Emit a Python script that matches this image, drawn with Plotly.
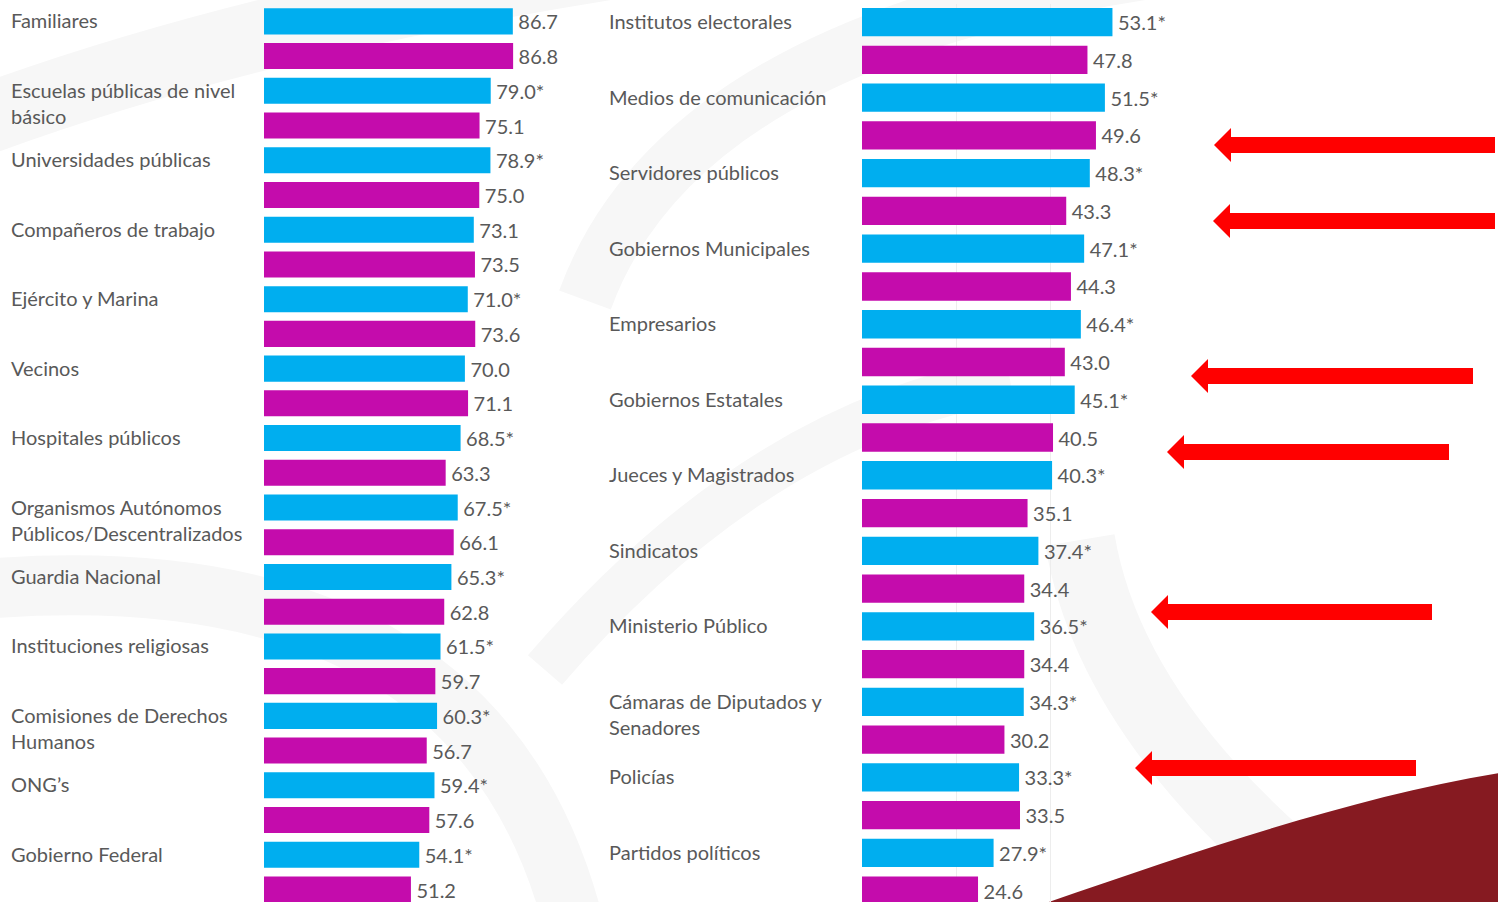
import plotly.graph_objects as go

W, H = 1498, 902
MT = 4

# ---------------- data ----------------
left_categories = [
    "Familiares", "Escuelas públicas de nivel<br>básico", "Universidades públicas",
    "Compañeros de trabajo", "Ejército y Marina", "Vecinos", "Hospitales públicos",
    "Organismos Autónomos<br>Públicos/Descentralizados", "Guardia Nacional",
    "Instituciones religiosas", "Comisiones de Derechos<br>Humanos", "ONG’s",
    "Gobierno Federal",
]
left_cyan = [86.7, 79.0, 78.9, 73.1, 71.0, 70.0, 68.5, 67.5, 65.3, 61.5, 60.3, 59.4, 54.1]
left_cyan_sig = [False, True, True, False, True, False, True, True, True, True, True, True, True]
left_magenta = [86.8, 75.1, 75.0, 73.5, 73.6, 71.1, 63.3, 66.1, 62.8, 59.7, 56.7, 57.6, 51.2]

right_categories = [
    "Institutos electorales", "Medios de comunicación", "Servidores públicos",
    "Gobiernos Municipales", "Empresarios", "Gobiernos Estatales", "Jueces y Magistrados",
    "Sindicatos", "Ministerio Público", "Cámaras de Diputados y<br>Senadores", "Policías",
    "Partidos políticos",
]
right_cyan = [53.1, 51.5, 48.3, 47.1, 46.4, 45.1, 40.3, 37.4, 36.5, 34.3, 33.3, 27.9]
right_cyan_sig = [True] * 12
right_magenta = [47.8, 49.6, 43.3, 44.3, 43.0, 40.5, 35.1, 34.4, 34.4, 30.2, 33.5, 24.6]

# ---------------- style ----------------
CYAN = "#00AEEF"
MAGENTA = "#C40CAC"
TXT = "#595959"
FONT = "Lato"
FS = 20


def px(x):
    return x / W


def py(y):
    return 1 - (y - MT) / (H - MT)


def fmt(v, sig=False):
    return "\u2009" + f"{v:.1f}" + ("*" if sig else "")


fig = go.Figure()

panels = [
    (left_categories, left_cyan, left_cyan_sig, left_magenta, "x", "y"),
    (right_categories, right_cyan, right_cyan_sig, right_magenta, "x2", "y2"),
]
for cats, cy, sig, mg, xa, ya in panels:
    fig.add_trace(go.Bar(
        y=cats, x=cy, orientation="h", marker=dict(color=CYAN, line=dict(width=0)),
        text=[fmt(v, s) for v, s in zip(cy, sig)], textposition="outside",
        textfont=dict(family=FONT, size=FS, color=TXT), cliponaxis=False,
        constraintext="none",
        xaxis=xa, yaxis=ya, showlegend=False, hoverinfo="skip",
    ))
    fig.add_trace(go.Bar(
        y=cats, x=mg, orientation="h", marker=dict(color=MAGENTA, line=dict(width=0)),
        text=[fmt(v) for v in mg], textposition="outside",
        textfont=dict(family=FONT, size=FS, color=TXT), cliponaxis=False,
        constraintext="none",
        xaxis=xa, yaxis=ya, showlegend=False, hoverinfo="skip",
    ))

# category labels (first line aligned with the cyan bar)
annotations = []
for cats, yref, xstart, unit_px in [(left_categories, "y", 9, 898 / 12.93),
                                     (right_categories, "y2", 607, 75.5)]:
    off = 0.25 * unit_px
    for c in cats:
        for i, line in enumerate(c.split("<br>")):
            annotations.append(dict(
                x=px(xstart), xref="paper", xanchor="left",
                y=c, yref=yref, yanchor="middle", yshift=off - 26 * i + 1,
                text=line, showarrow=False,
                font=dict(family=FONT, size=FS, color=TXT),
            ))

shapes = []
# faint watermark swirls
SW = "#f7f7f7"
for d, w in [
    (f"M {px(640)},{py(-40)} Q {px(250)},{py(20)} {px(-30)},{py(125)}", 70),
    (f"M {px(-30)},{py(590)} Q {px(480)},{py(545)} {px(575)},{py(930)}", 60),
    (f"M {px(585)},{py(300)} Q {px(680)},{py(40)} {px(1160)},{py(-30)}", 55),
    (f"M {px(545)},{py(670)} Q {px(760)},{py(420)} {px(1010)},{py(380)}", 45),
    (f"M {px(1080)},{py(540)} Q {px(1110)},{py(720)} {px(1320)},{py(890)}", 70),
]:
    shapes.append(dict(type="path", path=d, xref="paper", yref="paper",
                       line=dict(color=SW, width=w), layer="below"))

# dark red wave
shapes.append(dict(
    type="path", xref="paper", yref="paper", layer="below",
    path=(f"M {px(1046)},{py(903)} C {px(1200)},{py(850)} {px(1350)},{py(798)} "
          f"{px(1500)},{py(773)} L {px(1500)},{py(903)} Z"),
    fillcolor="#861A21", line=dict(width=0),
))

# red arrows (tip x, y, tail x)
arrows = [(1214, 145, 1495), (1213, 221, 1495), (1191, 376, 1473),
          (1167, 452, 1449), (1151, 612, 1432), (1135, 768, 1416)]
for tx, ty, ex in arrows:
    hl, hh, sh = 17, 17, 8
    d = (f"M {px(tx)},{py(ty)} L {px(tx+hl)},{py(ty-hh)} L {px(tx+hl)},{py(ty-sh)} "
         f"L {px(ex)},{py(ty-sh)} L {px(ex)},{py(ty+sh)} L {px(tx+hl)},{py(ty+sh)} "
         f"L {px(tx+hl)},{py(ty+hh)} Z")
    shapes.append(dict(type="path", path=d, xref="paper", yref="paper",
                       fillcolor="#FF0000", line=dict(width=0), layer="above"))

axis_common = dict(showticklabels=False, ticks="", zeroline=False,
                   showline=False, gridcolor="#ededed", gridwidth=1, fixedrange=True)

fig.update_layout(
    width=W, height=H,
    margin=dict(l=0, r=0, t=MT, b=0, pad=0),
    paper_bgcolor="white", plot_bgcolor="rgba(0,0,0,0)",
    barmode="group", bargap=0.0, bargroupgap=0.25,
    showlegend=False,
    xaxis=dict(domain=[px(264), px(551)], range=[0, 100], tickvals=[0, 100], **axis_common),
    xaxis2=dict(domain=[px(862), px(1145)], range=[0, 60], tickvals=[0, 20, 40, 60],
                anchor="y2", **axis_common),
    yaxis=dict(range=[12.43, -0.5], showticklabels=False, showgrid=False,
               zeroline=False, type="category", categoryorder="array",
               categoryarray=left_categories, fixedrange=True),
    yaxis2=dict(range=[11.40, -0.49], showticklabels=False, showgrid=False,
                zeroline=False, type="category", categoryorder="array",
                categoryarray=right_categories, anchor="x2", fixedrange=True),
    annotations=annotations,
    shapes=shapes,
)

fig.write_html(
    "out.html",
    config={"displayModeBar": False},
    post_script="document.body.style.margin='0';document.body.style.overflow='hidden';",
)
